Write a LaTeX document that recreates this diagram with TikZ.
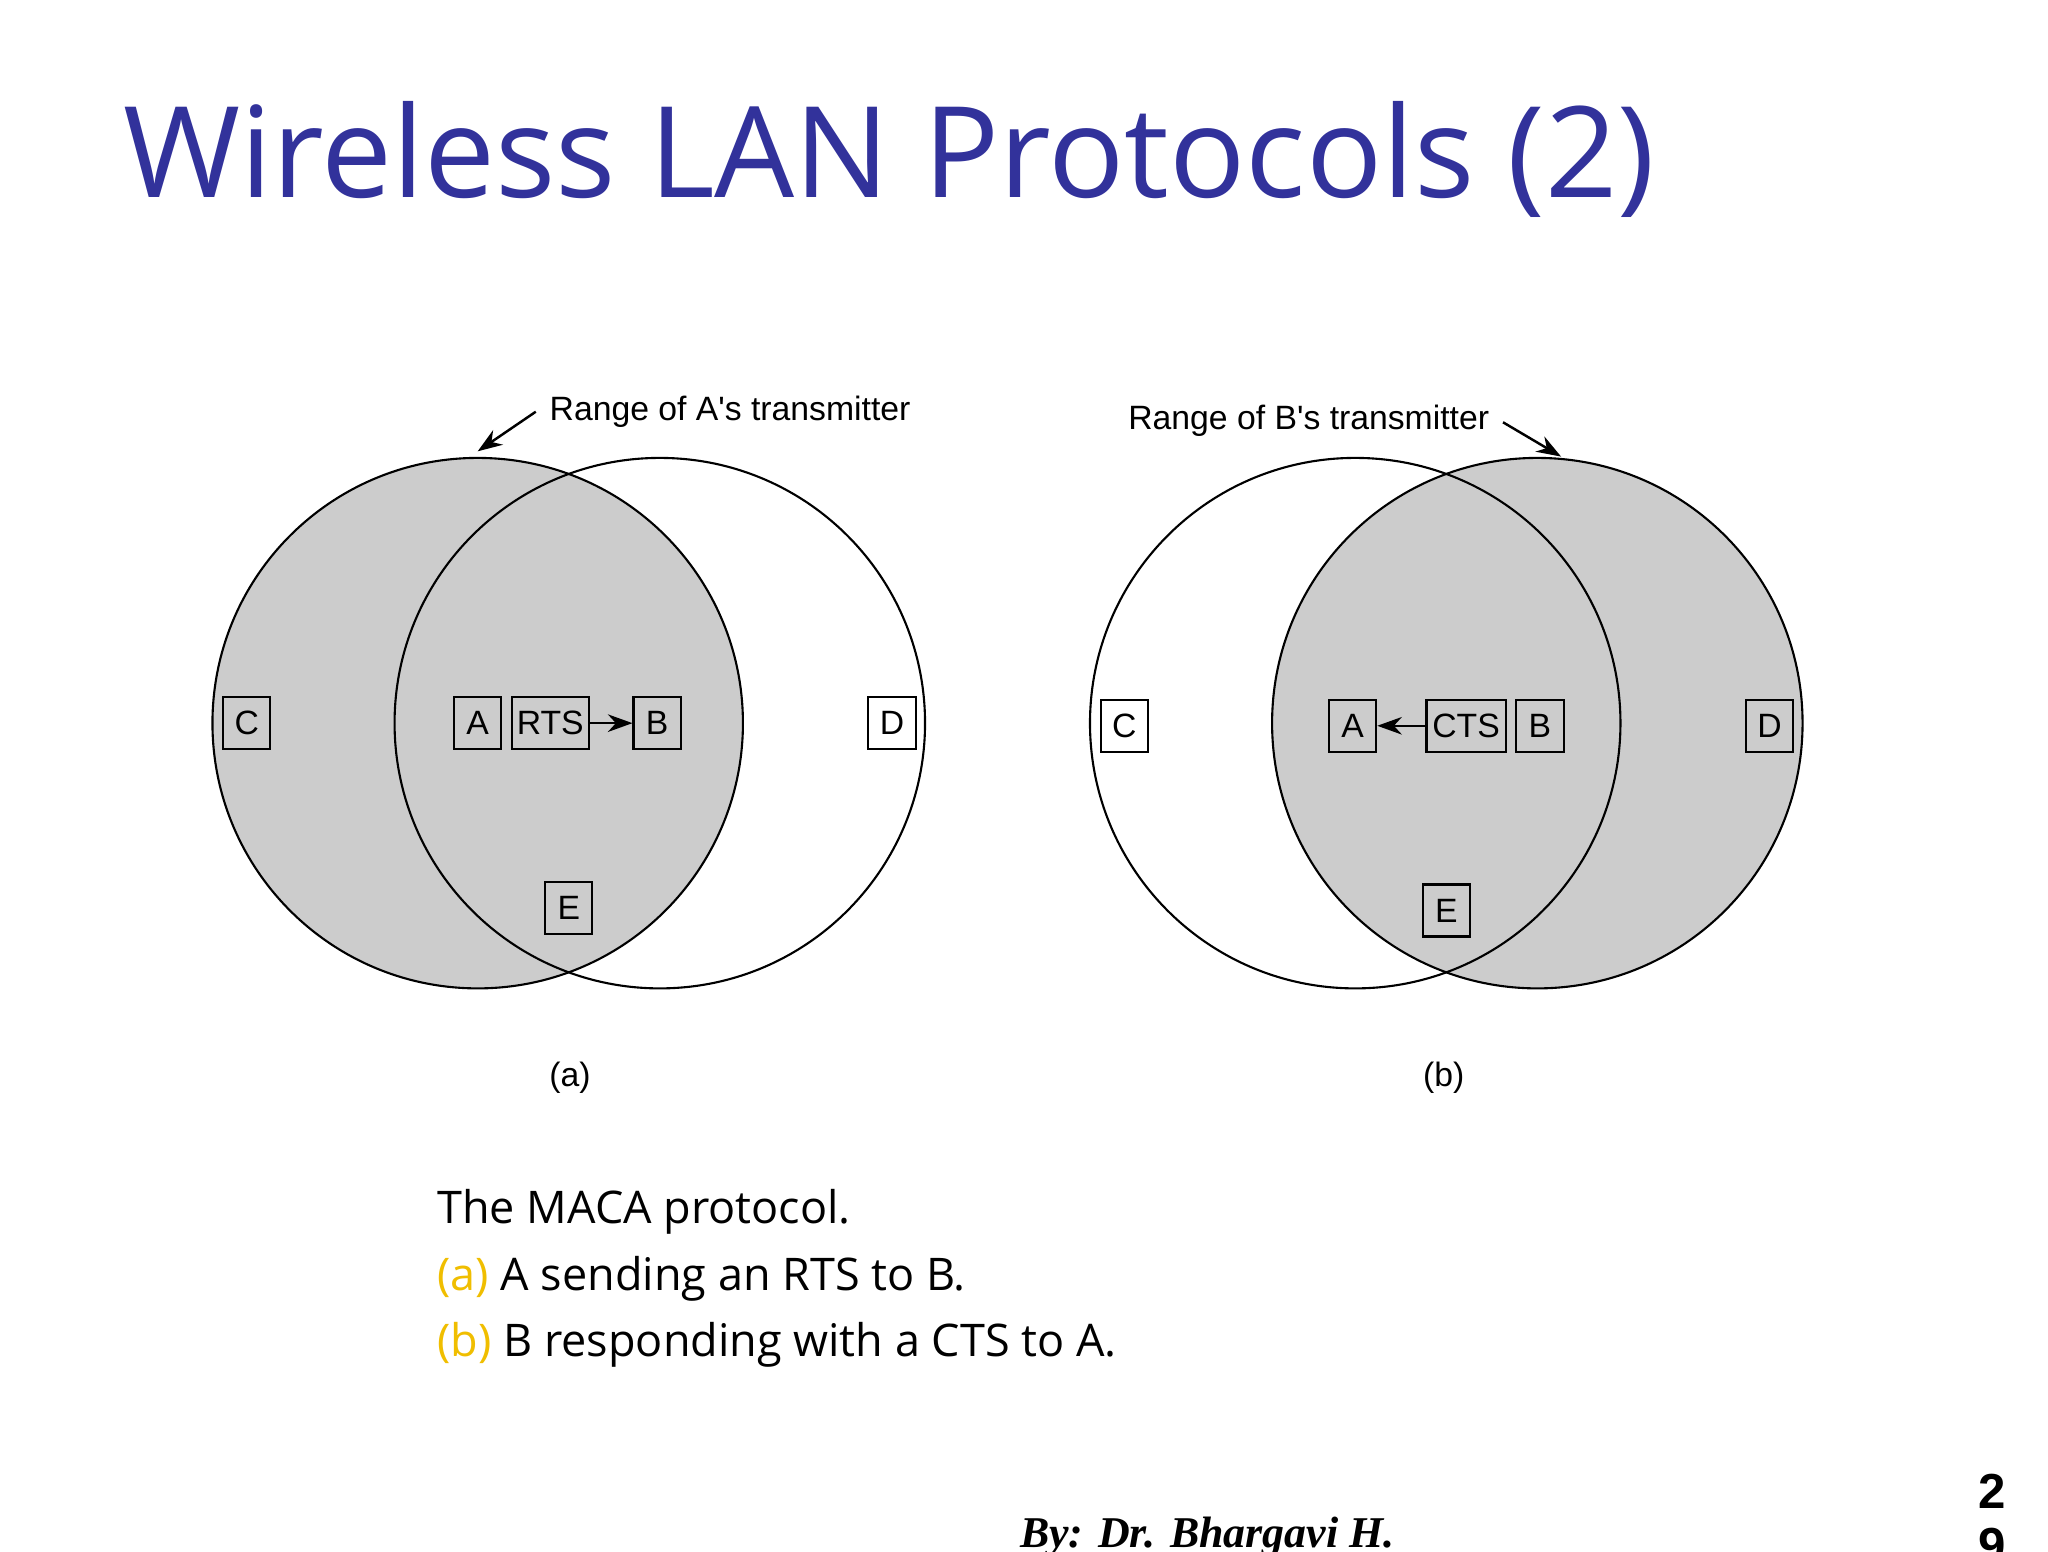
\documentclass[tikz,border=0pt]{standalone}
\usepackage{fontspec}
\setmainfont{Open Sans}
\newfontfamily\lab{Liberation Sans}
\newfontfamily\bytxt{Liberation Serif}
\usetikzlibrary{arrows.meta}
\definecolor{titleblue}{RGB}{50,50,155}
\definecolor{rangegray}{RGB}{204,204,204}
\definecolor{capyel}{RGB}{240,190,0}
\tikzset{
  stbox/.style={draw,line width=0.6pt,minimum width=13.5mm*0.35,minimum height=5.2mm,inner sep=1.5pt,font=\lab\fontsize{9.6pt}{11pt}\selectfont},
  rangec/.style={draw,line width=0.6pt},
  arr/.style={-{Stealth[length=7pt,width=5pt]},line width=0.7pt},
  lbl/.style={font=\lab\fontsize{9.6pt}{11pt}\selectfont,inner sep=0pt},
}
\begin{document}
\begin{tikzpicture}[x=0.013196cm,y=-0.013196cm]
\useasboundingbox (0,0) rectangle (1552,1176);
\fill[white] (0,0) rectangle (1552,1176);
\node[anchor=base west,inner sep=0pt,text=titleblue,font=\fontsize{36pt}{42pt}\selectfont] (title) at (93,150) {Wireless LAN Protocols (2)};
% (a)
\fill[rangegray] (362,548) circle[radius=201];
\draw[rangec] (362,548) circle[radius=201];
\draw[rangec] (500,548) circle[radius=201];
\node[stbox] (aC) at (187,548) {C};
\node[stbox] (aA) at (362,548) {A};
\node[stbox,minimum width=58*0.013196cm] (aR) at (417,548) {RTS};
\node[stbox] (aB) at (498,548) {B};
\node[stbox] (aD) at (676,548) {D};
\node[stbox] (aE) at (431,688) {E};
\draw[arr] (aR.east) -- (aB.west);
\node[lbl,anchor=west] (ral) at (416,312) {Range of A's transmitter};
\coordinate (rat) at (362,342);
\draw[arr] (ral.west)++(-10,0) -- (rat);
\node[lbl] (capa) at (432,817) {(a)};
% (b)
\fill[rangegray] (1165,548) circle[radius=201];
\draw[rangec] (1027,548) circle[radius=201];
\draw[rangec] (1165,548) circle[radius=201];
\node[stbox] (bC) at (852,550) {C};
\node[stbox] (bA) at (1025,550) {A};
\node[stbox,minimum width=60*0.013196cm] (bR) at (1111,550) {CTS};
\node[stbox] (bB) at (1167,550) {B};
\node[stbox] (bD) at (1341,550) {D};
\node[stbox] (bE) at (1096,690) {E};
\draw[arr] (bR.west) -- (bA.east);
\node[lbl,anchor=east] (rbl) at (1129,319) {Range of B's transmitter};
\coordinate (rbt) at (1183,346);
\draw[arr] (rbl.east)++(10,1) -- (rbt);
\node[lbl] (capb) at (1094,817) {(b)};
% caption
\node[anchor=base west,inner sep=0pt,font=\fontsize{12.8pt}{15pt}\selectfont] (c1) at (331,927) {The MACA protocol.};
\node[anchor=base west,inner sep=0pt,font=\fontsize{12.8pt}{15pt}\selectfont] (c2) at (331,978) {\textcolor{capyel}{(a)} A sending an RTS to B.};
\node[anchor=base west,inner sep=0pt,font=\fontsize{12.8pt}{15pt}\selectfont] (c3) at (331,1028) {\textcolor{capyel}{(b)} B responding with a CTS to A.};
\node[anchor=base,inner sep=0pt,font=\bytxt\bfseries\itshape\fontsize{12.5pt}{15pt}\selectfont] (by) at (915,1173) {By: Dr. Bhargavi H.};
\node[anchor=base,inner sep=0pt,font=\lab\bfseries\fontsize{14pt}{16pt}\selectfont] (p1) at (1510,1143) {2};
\node[anchor=base,inner sep=0pt,font=\lab\bfseries\fontsize{14pt}{16pt}\selectfont] (p2) at (1510,1184) {9};
\end{tikzpicture}
\end{document}
